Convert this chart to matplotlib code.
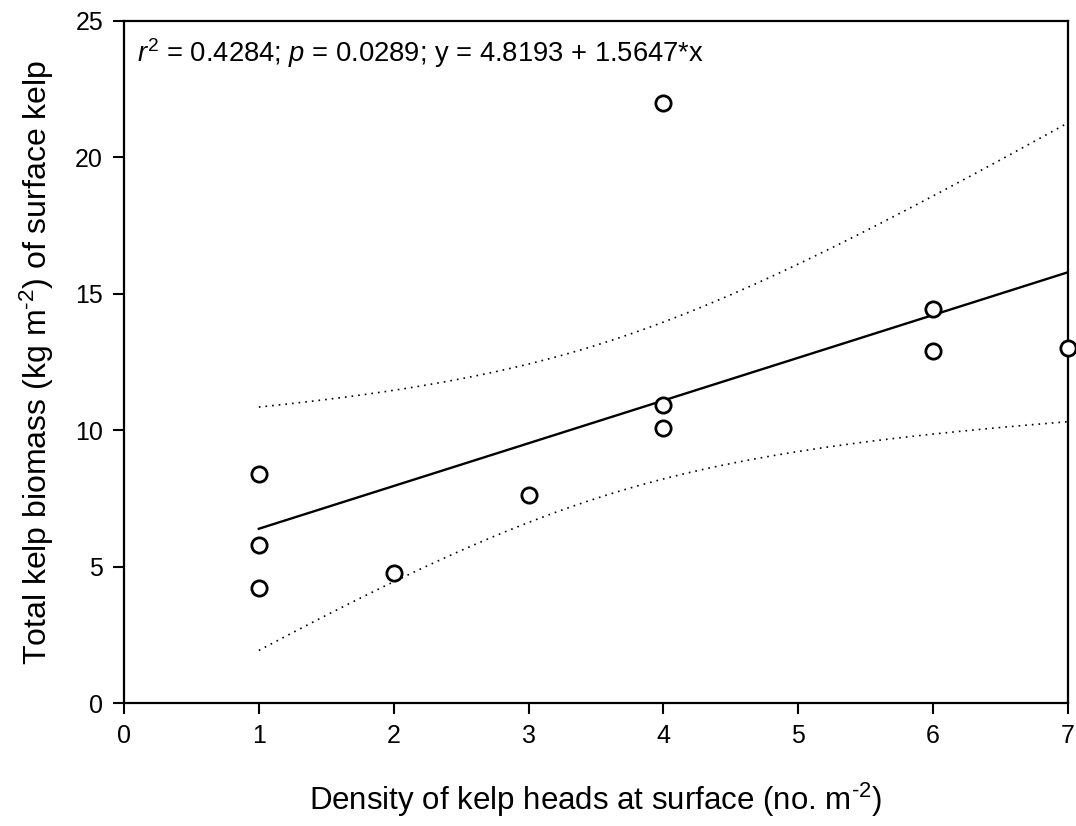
import numpy as np
import matplotlib
matplotlib.use('Agg')
import matplotlib.pyplot as plt

plt.rcParams['font.family'] = ['Liberation Sans', 'DejaVu Sans']
plt.rcParams['mathtext.fontset'] = 'custom'
plt.rcParams['mathtext.rm'] = 'Liberation Sans'
plt.rcParams['mathtext.it'] = 'Liberation Sans:italic'

# kelp heads density vs biomass
density = [1, 1, 1, 2, 3, 4, 4, 4, 6, 6, 7]
biomass = [8.39, 5.79, 4.22, 4.77, 7.62, 22.0, 10.92, 10.08, 14.44, 12.90, 13.01]

x_ticks = [0, 1, 2, 3, 4, 5, 6, 7]
y_ticks = [0, 5, 10, 15, 20, 25]

# fit + 95% confidence band of the regression line
x = np.array(density, dtype=float)
y = np.array(biomass, dtype=float)
n = len(x)
slope, intercept = np.polyfit(x, y, 1)
resid = y - (intercept + slope * x)
s = np.sqrt(np.sum(resid ** 2) / (n - 2))
sxx = np.sum((x - x.mean()) ** 2)
t_crit = 2.262  # t(0.975, df=9)

xs = np.linspace(x.min(), x.max(), 200)
fit = intercept + slope * xs
half = t_crit * s * np.sqrt(1.0 / n + (xs - x.mean()) ** 2 / sxx)

fig = plt.figure(figsize=(10.76, 8.26), dpi=100)
ax = fig.add_axes([0.1152, 0.1489, 0.8774, 0.8257])

ax.plot(xs, fit, color='black', lw=1.7, zorder=2)
ax.plot(xs, fit + half, color='black', lw=1.2, ls=(0, (1, 3)), zorder=2)
ax.plot(xs, fit - half, color='black', lw=1.2, ls=(0, (1, 3)), zorder=2)
ax.plot(density, biomass, 'o', mfc='white', mec='black', ms=11, mew=2,
        zorder=3, clip_on=False)

ax.set_xlim(0, 7)
ax.set_ylim(0, 25)
ax.set_xticks(x_ticks)
ax.set_yticks(y_ticks)
ax.tick_params(direction='out', length=8, width=1.5, labelsize=18, pad=7)
for sp in ax.spines.values():
    sp.set_linewidth(1.6)

ax.set_xlabel('Density of kelp heads at surface (no. m$^{\\text{-}2}$)',
              fontsize=22.5, labelpad=24)
ax.set_ylabel('Total kelp biomass (kg m$^{\\text{-}2}$) of surface kelp',
              fontsize=23, labelpad=14)

ax.text(0.014, 0.977,
        '$r^{2}$ = 0.4284; $p$ = 0.0289; y = 4.8193 + 1.5647*x',
        transform=ax.transAxes, ha='left', va='top', fontsize=19.7)

fig.savefig('out.png', dpi=100)
